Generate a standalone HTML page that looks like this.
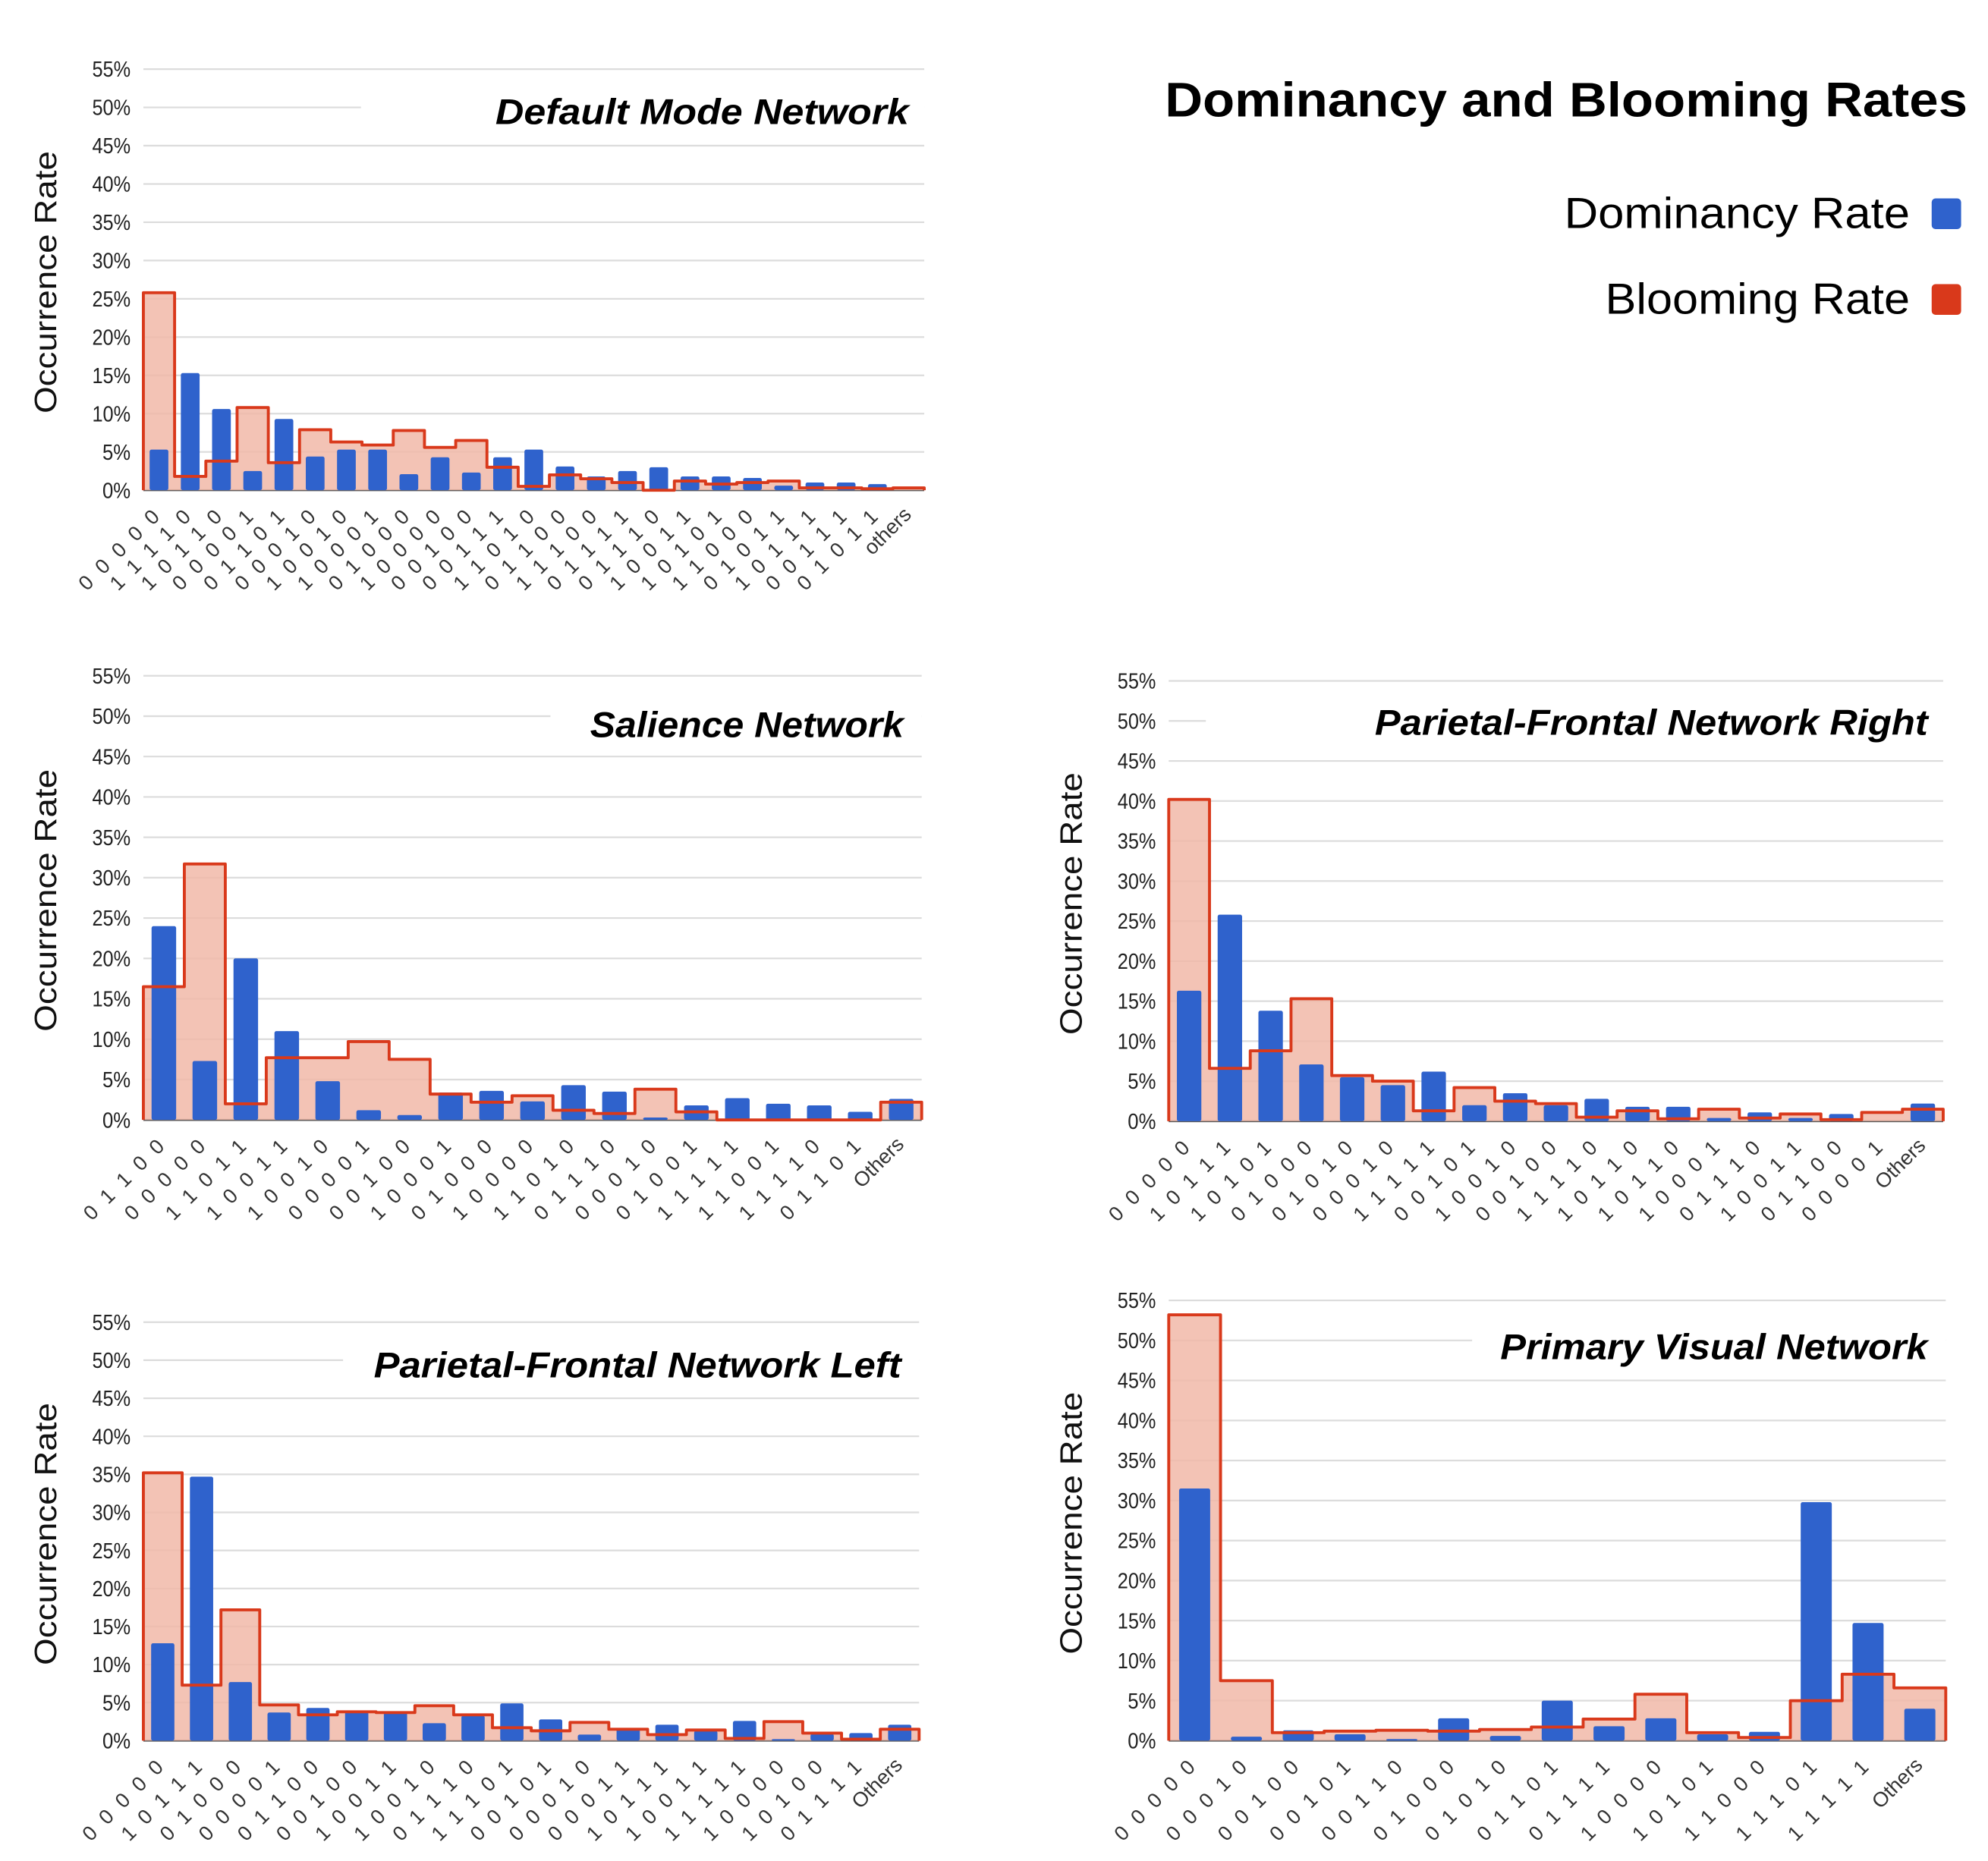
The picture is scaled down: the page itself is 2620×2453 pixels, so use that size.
<!DOCTYPE html>
<html><head><meta charset="utf-8"><style>
html,body{margin:0;padding:0;background:#fff;}
svg{display:block;}
</style></head><body>
<svg id="root" width="2620" height="2453" viewBox="0 0 1553 1454" preserveAspectRatio="none" xmlns="http://www.w3.org/2000/svg" font-family="'Liberation Sans', sans-serif">
<text x="1537" y="91" text-anchor="end" font-size="38" font-weight="bold" textLength="627" lengthAdjust="spacingAndGlyphs">Dominancy and Blooming Rates</text>
<text x="1492" y="178" text-anchor="end" font-size="34" textLength="270" lengthAdjust="spacingAndGlyphs">Dominancy Rate</text>
<rect x="1509" y="155" width="23" height="24" rx="3" fill="#2f62cc"/>
<text x="1492" y="245" text-anchor="end" font-size="34" textLength="238" lengthAdjust="spacingAndGlyphs">Blooming Rate</text>
<rect x="1509" y="222" width="23" height="24" rx="3" fill="#d9391b"/>
</svg>
<script>
const dmnCats = ["0 0 0 0 0","1 1 1 1 0","1 0 1 1 0","0 0 0 0 1","0 1 1 0 1","0 0 0 1 0","1 0 0 1 0","1 0 0 0 1","0 1 0 0 0","1 0 0 0 0","0 0 1 0 0","0 0 1 1 1","1 1 0 1 0","0 1 1 0 0","1 1 1 0 0","0 1 1 1 1","0 1 1 1 0","1 0 0 1 1","1 0 1 0 1","1 1 0 0 0","0 1 0 1 1","1 0 1 1 1","0 0 1 1 1","0 1 0 1 1","others"];
const dmnDom = [5.3,15.3,10.6,2.5,9.3,4.4,5.3,5.3,2.1,4.3,2.3,4.3,5.3,3.1,1.8,2.5,3.0,1.8,1.8,1.6,0.6,1.0,1.0,0.8,0];
const dmnBloom = [25.8,1.8,3.8,10.8,3.6,7.9,6.3,5.9,7.8,5.6,6.5,3.0,0.5,2.0,1.5,1.0,0,1.2,0.8,1.0,1.2,0.3,0.3,0.2,0.3];

const salCats = ["0 1 1 0 0","0 0 0 0 0","1 1 0 1 1","1 0 0 1 1","1 0 0 1 0","0 0 0 0 1","0 0 1 0 0","1 0 0 0 1","0 1 0 0 0","1 0 0 0 0","1 1 0 1 0","0 1 1 1 0","0 0 0 1 0","0 1 0 0 1","1 1 1 1 1","1 1 0 0 1","1 1 1 1 0","0 1 1 0 1","Others"];
const salDom = [24,7.3,20,11,4.8,1.2,0.6,3.4,3.6,2.3,4.3,3.5,0.3,1.8,2.7,2.0,1.8,1.0,2.6];
const salBloom = [16.5,31.7,2.0,7.7,7.7,9.7,7.5,3.2,2.2,3.0,1.2,0.8,3.8,1.0,0,0,0,0,2.2];

const pfrCats = ["0 0 0 0 0","1 0 1 1 1","1 0 1 0 1","0 1 0 0 0","0 1 0 1 0","0 0 0 1 0","1 1 1 1 1","0 0 1 0 1","1 0 0 1 0","0 0 1 0 0","1 1 1 1 0","1 0 1 1 0","1 0 1 1 0","1 0 0 0 1","0 1 1 1 0","1 0 0 1 1","0 1 1 0 0","0 0 0 0 1","Others"];
const pfrDom = [16.3,25.8,13.8,7.1,5.5,4.5,6.2,2.0,3.5,2.0,2.8,1.8,1.8,0.4,1.1,0.4,0.9,0,2.2];
const pfrBloom = [40.2,6.6,8.8,15.3,5.7,5.0,1.3,4.2,2.5,2.2,0.5,1.3,0.3,1.5,0.4,0.9,0.2,1.1,1.5];

const pflCats = ["0 0 0 0 0","1 0 1 1 1","0 1 0 0 0","0 0 0 0 1","0 1 1 0 0","0 0 1 0 0","1 0 0 1 1","1 0 0 1 0","0 1 1 1 0","1 1 1 0 1","0 0 1 0 1","0 0 0 1 0","0 0 0 1 1","1 0 1 1 1","1 0 0 1 1","1 1 1 1 1","1 0 0 0 0","1 0 1 0 0","0 1 1 1 1","Others"];
const pflDom = [12.8,34.7,7.7,3.7,4.3,3.8,3.7,2.3,3.3,4.9,2.8,0.8,1.6,2.1,1.3,2.6,0.2,0.9,1.0,2.1];
const pflBloom = [35.2,7.3,17.2,4.7,3.4,3.8,3.7,4.6,3.4,1.7,1.3,2.4,1.5,0.8,1.4,0.3,2.5,1.0,0.2,1.5];

const pvnCats = ["0 0 0 0 0","0 0 0 1 0","0 0 1 0 0","0 0 1 0 1","0 0 1 1 0","0 1 0 0 0","0 1 0 1 0","0 1 1 0 1","0 1 1 1 1","1 0 0 0 0","1 0 1 0 1","1 1 0 0 0","1 1 1 0 1","1 1 1 1 1","Others"];
const pvnDom = [31.5,0.5,1.3,0.8,0.2,2.8,0.6,5.0,1.8,2.8,0.8,1.1,29.8,14.7,4.0];
const pvnBloom = [53.2,7.5,1.0,1.2,1.3,1.2,1.4,1.7,2.7,5.8,1.0,0.4,5.0,8.3,6.6];

const yTicks = [0,5,10,15,20,25,30,35,40,45,50,55];

const NS = "http://www.w3.org/2000/svg";
const root = document.getElementById('root');
function mk(tag, attrs, parent){
  const e = document.createElementNS(NS, tag);
  for (const k in attrs) e.setAttribute(k, attrs[k]);
  (parent||root).appendChild(e);
  return e;
}

function chart(key, title, cats, dom, bloom, L, R, y0, y55, titleX, titleY, titleW, maskX, maskW){
  const g = mk('g', {});
  
  
  const yS = v => y0 - (v/55)*(y0-y55);
  const n = cats.length, cw = (R-L)/n;
  const xS = i => L + i*cw;
  yTicks.forEach(t => {
    const ln = mk('line', {x1:L, x2:R, y1:yS(t), y2:yS(t), stroke: t===0 ? '#555' : '#dcdcdc', 'stroke-width': t===0 ? 1.5 : 1.3}, g);
    
    
    const tx = mk('text', {x:L-10, y:yS(t)+6, 'text-anchor':'end', 'font-size':17, fill:'#222', textLength: t<10 ? 22 : 30, lengthAdjust:'spacingAndGlyphs'}, g);
    tx.textContent = t + '%';
    
    
  });
  const yt = mk('text', {transform:`translate(${L-68},${(y0+y55)/2 + 2}) rotate(-90)`, 'text-anchor':'middle', 'font-size':24, fill:'#111', textLength:205, lengthAdjust:'spacingAndGlyphs'}, g);
  yt.textContent = 'Occurrence Rate';
  
  
  let d = `M${xS(0)},${y0}`;
  bloom.forEach((v,i) => { d += ` L${xS(i)},${yS(v)} L${xS(i+1)},${yS(v)}`; });
  const fillD = d + ` L${xS(n)},${y0} Z`;
  const fp = mk('path', {d:fillD, fill:'#f1b9a8', 'fill-opacity':0.85}, g);
  
  
  const bw = cw*0.6;
  dom.forEach((v,i) => {
    const b = mk('rect', {x:xS(i)+cw/2-bw/2, y:yS(v), width:bw, height:Math.max(0,y0-yS(v)), fill:'#2f62cc', rx:1.5}, g);
    
    
  });
  const lp = mk('path', {d:d + ` L${xS(n)},${y0}`, fill:'none', stroke:'#d9391b', 'stroke-width':2.3, 'stroke-linejoin':'round'}, g);
  
  
  cats.forEach((c,i) => {
    const cx = xS(i)+cw/2 + 3, cy = y0 + 20;
    const isWord = /[a-z]/i.test(c);
    const t = mk('text', {x:cx, y:cy, transform:`rotate(-45 ${cx} ${cy})`, 'text-anchor':'end', 'font-size': 16, fill:'#333', 'letter-spacing': isWord ? 0 : 2.4}, g);
    t.textContent = c;
    
    
  });
  const m = mk('rect', {x:maskX, y:titleY-32, width:maskW, height:44, fill:'#fff'}, g);
  
  
  const tt = mk('text', {x:titleX, y:titleY, 'text-anchor':'end', 'font-size':28, 'font-weight':'bold', 'font-style':'italic', textLength:titleW, lengthAdjust:'spacingAndGlyphs'}, g);
  tt.textContent = title;
  
  
}

chart('default-mode', 'Default Mode Network', dmnCats, dmnDom, dmnBloom, 112, 722, 383, 54, 710, 97, 323, 282, 440);
chart('salience', 'Salience Network', salCats, salDom, salBloom, 112, 720, 875, 528, 706, 576, 245, 430, 290);
chart('parietal-frontal-right', 'Parietal-Frontal Network Right', pfrCats, pfrDom, pfrBloom, 913, 1518, 876, 532, 1506, 574, 432, 942, 576);
chart('parietal-frontal-left', 'Parietal-Frontal Network Left', pflCats, pflDom, pflBloom, 112, 718, 1360, 1033, 704, 1076, 412, 268, 450);
chart('primary-visual', 'Primary Visual Network', pvnCats, pvnDom, pvnBloom, 913, 1520, 1360, 1016, 1506, 1062, 334, 1150, 370);
</script>
</body></html>
